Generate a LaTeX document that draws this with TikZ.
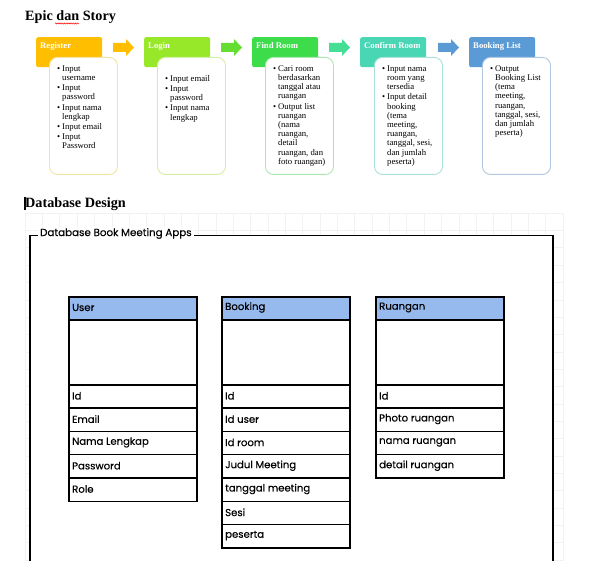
\documentclass[tikz,border=0pt]{standalone}
\usepackage{fontspec}
\setmainfont{Liberation Serif}
\newfontfamily\sketchfont[FakeBold=0.35]{Poppins}
\usetikzlibrary{decorations.pathmorphing}
\definecolor{cReg}{RGB}{255,190,0}
\definecolor{cLog}{RGB}{150,232,40}
\definecolor{cFind}{RGB}{60,220,75}
\definecolor{cConf}{RGB}{72,214,180}
\definecolor{cBook}{RGB}{91,155,213}
\definecolor{bReg}{RGB}{246,226,160}
\definecolor{bLog}{RGB}{210,240,165}
\definecolor{bFind}{RGB}{170,232,178}
\definecolor{bConf}{RGB}{170,226,216}
\definecolor{bBook}{RGB}{176,200,224}
\definecolor{aLog}{RGB}{100,222,50}
\definecolor{aFind}{RGB}{70,222,150}
\definecolor{tblblue}{RGB}{150,186,238}
\definecolor{gridc}{RGB}{242,242,242}
\newcommand\blist[1]{\begin{tabular}{@{}p{5pt}@{}l@{}}#1\end{tabular}}
\newcommand\dbtable[4]{%
  \node[tblhead, anchor=north west] (#1H) at (#2,296) {};
  \node[tbltext] (#1T) at (#2+4,307.5) {#3};
  \node[tblbody, anchor=north west] (#1B) at (#2,319) {};
  \foreach \r [count=\i from 0] in {#4} {
    \node[tblrow, anchor=north west] (#1R\i) at (#2,384+23.3*\i) {};
    \node[tbltext] (#1X\i) at (#2+4,384+23.3*\i+11.8) {\r};
  }%
}
\begin{document}
\begin{tikzpicture}[x=1pt,y=-1pt,
  title/.style={font=\fontsize{14.2}{16}\selectfont\bfseries, inner sep=0, anchor=base west},
  hdr/.style={rounded corners=2pt, minimum width=66, minimum height=30, anchor=north west, inner sep=0},
  hdrtext/.style={font=\fontsize{8.7}{10}\selectfont\bfseries, text=white, inner sep=0, anchor=base west},
  cbox/.style={rounded corners=8pt, fill=white, line width=0.9pt, minimum width=68, minimum height=117, anchor=north west, inner sep=0},
  ctext/.style={font=\fontsize{8.7}{9.2}\selectfont, inner sep=0, anchor=north west},
  tblhead/.style={draw, line width=1.5pt, fill=tblblue, minimum width=128, minimum height=23, inner sep=0},
  tblbody/.style={draw, line width=1.5pt, fill=white, minimum width=128, minimum height=65, inner sep=0},
  tblrow/.style={draw, line width=1.5pt, fill=white, minimum width=128, minimum height=23.3, inner sep=0},
  tbltext/.style={font=\sketchfont\fontsize{10.1}{12}\selectfont, inner sep=0, anchor=west},
  gridline/.style={draw=gridc, line width=0.5pt},
  frameline/.style={line width=1.8pt, black}
]
\useasboundingbox (0,0) rectangle (591,561);
\begin{scope}
\clip (0,0) rectangle (591,561);
% ---------- Epic dan Story ----------
\node[title] (t1) at (25,21) {Epic dan Story};
\draw[red, line width=0.5pt, decorate, decoration={snake, amplitude=0.6pt, segment length=2.2pt}] (55,23.5) -- (79,23.5);

% headers
\node[hdr, fill=cReg] (regH) at (36,37) {};
\node[hdr, fill=cLog] (logH) at (144,37) {};
\node[hdr, fill=cFind] (findH) at (252,37) {};
\node[hdr, fill=cConf] (confH) at (360,37) {};
\node[hdr, fill=cBook] (bookH) at (469,37) {};
\node[hdrtext] (regT) at (40,49) {Register};
\node[hdrtext] (logT) at (148,49) {Login};
\node[hdrtext] (findT) at (256,49) {Find Room};
\node[hdrtext] (confT) at (364,49) {Confirm Room};
\node[hdrtext] (bookT) at (473,49) {Booking List};

% block arrows
\foreach \ax/\col in {113/cReg, 221/aLog, 329/aFind, 438/cBook}{
  \fill[\col] (\ax,43) -- (\ax+13,43) -- (\ax+13,39) -- (\ax+21,47.5) -- (\ax+13,56) -- (\ax+13,52) -- (\ax,52) -- cycle;
}

% content boxes
\node[cbox, draw=bReg] (regC) at (49,57) {};
\node[cbox, draw=bLog] (logC) at (157,57) {};
\node[cbox, draw=bFind] (findC) at (265,57) {};
\node[cbox, draw=bConf] (confC) at (374,57) {};
\node[cbox, draw=bBook] (bookC) at (482,57) {};

\node[ctext] (regL) at (57,64.6) {\blist{%
  \textbullet & Input\\ & username\\[1pt]
  \textbullet & Input\\ & password\\[1pt]
  \textbullet & Input nama\\ & lengkap\\[1pt]
  \textbullet & Input email\\[1pt]
  \textbullet & Input\\ & Password}};
\node[ctext] (logL) at (165,74.6) {\blist{%
  \textbullet & Input email\\[1pt]
  \textbullet & Input\\ & password\\[1pt]
  \textbullet & Input nama\\ & lengkap}};
\node[ctext] (findL) at (273,64.6) {\blist{%
  \textbullet & Cari room\\ & berdasarkan\\ & tanggal atau\\ & ruangan\\[1pt]
  \textbullet & Output list\\ & ruangan\\ & (nama\\ & ruangan,\\ & detail\\ & ruangan, dan\\ & foto ruangan)}};
\node[ctext] (confL) at (382,64.6) {\blist{%
  \textbullet & Input nama\\ & room yang\\ & tersedia\\[1pt]
  \textbullet & Input detail\\ & booking\\ & (tema\\ & meeting,\\ & ruangan,\\ & tanggal, sesi,\\ & dan jumlah\\ & peserta)}};
\node[ctext] (bookL) at (490,64.6) {\blist{%
  \textbullet & Output\\ & Booking List\\ & (tema\\ & meeting,\\ & ruangan,\\ & tanggal, sesi,\\ & dan jumlah\\ & peserta)}};

% ---------- Database Design ----------
\node[title] (t2) at (25,208) {Database Design};
\fill[black] (24.3,197) rectangle (26,210.5);

% grid
\foreach \k in {0,...,31}{
  \draw[gridline] ({25+17.35*\k},213) -- ({25+17.35*\k},561);
}
\foreach \k in {0,...,20}{
  \draw[gridline] (25,{213+17.35*\k}) -- (563,{213+17.35*\k});
}

% frame
\fill[white] (30,235.5) rectangle (553,575);
\draw[frameline] (30,575) -- (30,235.5) -- (553,235.5) -- (553,575);
\node[font=\sketchfont\fontsize{10.3}{12}\selectfont, fill=white, inner xsep=2.5pt, inner ysep=1pt, anchor=west] (frameT) at (37.5,233.5) {Database Book Meeting Apps};

% tables
\dbtable{user}{68}{User}{Id,Email,Nama Lengkap,Password,Role}
\dbtable{book}{221}{Booking}{Id,Id user,Id room,Judul Meeting,tanggal meeting,Sesi,peserta}
\dbtable{room}{375}{Ruangan}{Id,Photo ruangan,nama ruangan,detail ruangan}
\end{scope}
\end{tikzpicture}
\end{document}
